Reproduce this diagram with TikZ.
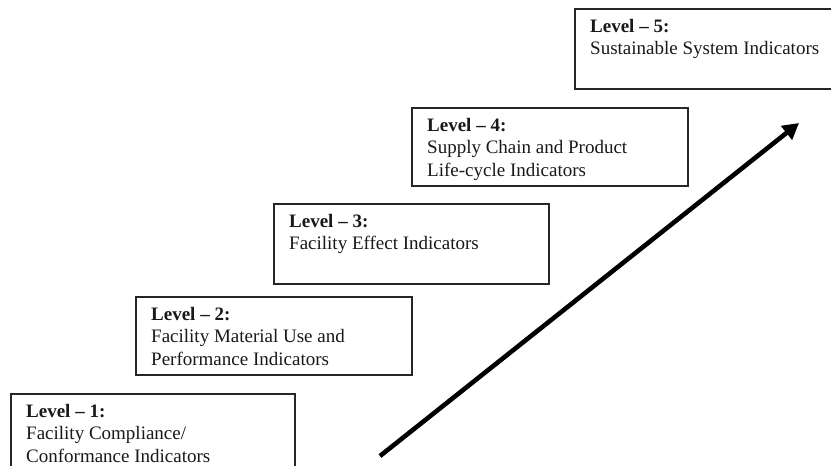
\documentclass[tikz,border=0pt]{standalone}
\usepackage{fontspec}
\setmainfont{Liberation Serif}
\usetikzlibrary{arrows.meta}
\tikzset{
  levelbox/.style={draw=black!85, line width=1.5pt, fill=white, inner sep=0pt, anchor=north west},
  leveltxt/.style={anchor=base west, inner sep=0pt, text=black!90},
  risearrow/.style={line width=4.6pt, -{Triangle[length=16pt,width=17pt]}}
}
\newcommand{\lvtext}[1]{\parbox[t]{300pt}{\fontsize{19}{22.5}\selectfont #1}}
\begin{document}
\begin{tikzpicture}[x=1pt,y=-1pt]
\useasboundingbox (0,0) rectangle (831,466);
\fill[white] (0,0) rectangle (831,466);
% boxes
\node[levelbox, minimum width=284pt, minimum height=100pt] (l1) at (10,393) {};
\node[levelbox, minimum width=276pt, minimum height=78pt] (l2) at (135,296) {};
\node[levelbox, minimum width=275pt, minimum height=80pt] (l3) at (273,203) {};
\node[levelbox, minimum width=276pt, minimum height=78pt] (l4) at (411,107) {};
\node[levelbox, minimum width=300pt, minimum height=80pt] (l5) at (574,8) {};
% texts
\node[leveltxt] (t1) at ([xshift=16pt,yshift=-24pt]l1.north west) {\lvtext{\textbf{Level – 1:}\\Facility Compliance/\\Conformance Indicators}};
\node[leveltxt] (t2) at ([xshift=16pt,yshift=-24pt]l2.north west) {\lvtext{\textbf{Level – 2:}\\Facility Material Use and\\Performance Indicators}};
\node[leveltxt] (t3) at ([xshift=16pt,yshift=-24pt]l3.north west) {\lvtext{\textbf{Level – 3:}\\Facility Effect Indicators}};
\node[leveltxt] (t4) at ([xshift=16pt,yshift=-24pt]l4.north west) {\lvtext{\textbf{Level – 4:}\\Supply Chain and Product\\Life-cycle Indicators}};
\node[leveltxt] (t5) at ([xshift=16pt,yshift=-24pt]l5.north west) {\lvtext{\textbf{Level – 5:}\\Sustainable System Indicators}};
% arrow
\coordinate (as) at (380,456);
\coordinate (ae) at (799,123);
\draw[risearrow] (as) -- (ae);
\end{tikzpicture}
\end{document}
